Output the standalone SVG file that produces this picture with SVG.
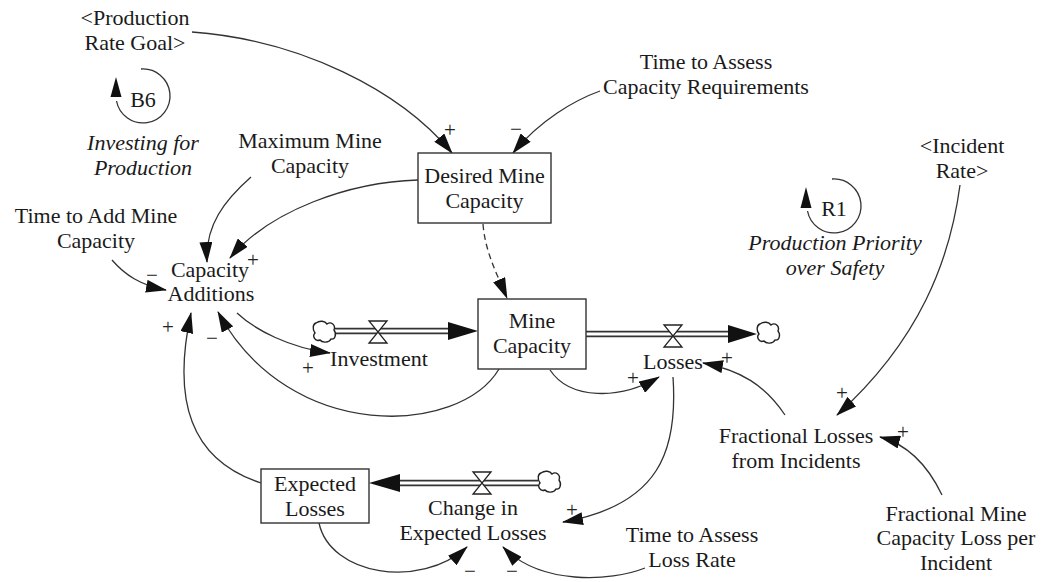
<svg xmlns="http://www.w3.org/2000/svg" width="1043" height="582" viewBox="0 0 1043 582" font-family="'Liberation Serif', 'Times New Roman', 'DejaVu Serif', serif">
<style>
text{font-family:"Liberation Serif","Times New Roman","DejaVu Serif",serif;font-size:22px;fill:#1a1a1a;text-anchor:middle}
.it{font-style:italic}
.sg{font-size:21px;fill:#222}
.box{fill:#fff;stroke:#333;stroke-width:1.4}
.lk{fill:none;stroke:#333;stroke-width:1.3}
.dash{stroke-dasharray:6 4}
.po{fill:none;stroke:#333;stroke-width:6.5}
.pi{fill:none;stroke:#fff;stroke-width:3}
.ah{fill:#111}
.valve{fill:#fff;stroke:#222;stroke-width:1.3}
.cloud{fill:#fff;stroke:#222;stroke-width:1.4}
.loop{fill:none;stroke:#333;stroke-width:1.3}
</style>
<defs>
<marker id="arr" viewBox="0 0 21 13" refX="20" refY="6.5" markerWidth="21" markerHeight="13" markerUnits="userSpaceOnUse" orient="auto">
<path d="M0,0 L21,6.5 L0,13 z" fill="#111"/>
</marker>
<path id="cl" class="cloud" d="M-8,-9 C-4,-12 1,-11 3,-8 C7,-11 12,-7 10,-2 C13,2 11,8 7,7 C5,11 -2,11 -4,8 C-9,10 -12,4 -9,1 C-12,-3 -11,-8 -8,-9 Z"/>
<path id="vl" class="valve" d="M-9,-11 L9,-11 L-9,11 L9,11 Z"/>
</defs>

<g id="connectors">
<path class="lk" marker-end="url(#arr)" d="M192,32 C300,40 400,90 452,153"/>
<path class="lk" marker-end="url(#arr)" d="M600,91 C575,100 540,120 513,153"/>
<path class="lk" marker-end="url(#arr)" d="M251,177 C225,200 205,225 207,262"/>
<path class="lk" marker-end="url(#arr)" d="M418,180 C350,182 270,210 230,258"/>
<path class="lk" marker-end="url(#arr)" d="M112,260 C125,275 140,285 166,290"/>
<path class="lk" marker-end="url(#arr)" d="M237,313 C255,330 290,348 330,353"/>
<path class="lk" marker-end="url(#arr)" d="M499,369 C460,435 290,445 218,312"/>
<path class="lk" marker-end="url(#arr)" d="M261,483 C190,460 172,400 191,313"/>
<path class="lk dash" marker-end="url(#arr)" d="M483,224 C485,250 495,270 507,298"/>
<path class="lk" marker-end="url(#arr)" d="M550,370 C570,400 620,400 659,377"/>
<path class="lk" marker-end="url(#arr)" d="M785,415 C765,385 740,370 703,363"/>
<path class="lk" marker-end="url(#arr)" d="M960,185 C950,260 920,340 837,415"/>
<path class="lk" marker-end="url(#arr)" d="M942,495 C930,470 910,445 880,437"/>
<path class="lk" marker-end="url(#arr)" d="M673,377 C678,450 660,505 563,522"/>
<path class="lk" marker-end="url(#arr)" d="M645,568 C610,582 540,585 503,547"/>
<path class="lk" marker-end="url(#arr)" d="M319,523 C330,575 420,590 467,547"/>
<g id="signs">
<text class="sg" x="450" y="137">+</text>
<text class="sg" x="516" y="136">−</text>
<text class="sg" x="253" y="267">+</text>
<text class="sg" x="152" y="282">−</text>
<text class="sg" x="308" y="375">+</text>
<text class="sg" x="212" y="345">−</text>
<text class="sg" x="168" y="334">+</text>
<text class="sg" x="633" y="385">+</text>
<text class="sg" x="727" y="365">+</text>
<text class="sg" x="842" y="400">+</text>
<text class="sg" x="903" y="439">+</text>
<text class="sg" x="572" y="517">+</text>
<text class="sg" x="512" y="578">−</text>
<text class="sg" x="470" y="578">−</text>
</g>
</g>

<g id="flows">
<g id="flow-investment">
<path class="po" d="M335,331 L450,331"/>
<path class="pi" d="M335,331 L452,331"/>
<polygon class="ah" points="448,322 478,331 448,340"/>
<use href="#cl" x="324" y="332"/>
<use href="#vl" x="378" y="332"/>
</g>
<g id="flow-losses">
<path class="po" d="M586,334 L730,334"/>
<path class="pi" d="M586,334 L732,334"/>
<polygon class="ah" points="728,325 757,334 728,343"/>
<use href="#cl" x="768" y="333"/>
<use href="#vl" x="673" y="336"/>
</g>
<g id="flow-change">
<path class="po" d="M538,483 L398,483"/>
<path class="pi" d="M538,483 L396,483"/>
<polygon class="ah" points="400,474 369,483 400,492"/>
<use href="#cl" x="549" y="482"/>
<use href="#vl" x="482" y="483"/>
</g>
</g>

<g id="loop-B6">
<path class="loop" d="M141,69 A27,27 0 1 1 116.5,101"/>
<polygon class="ah" points="116,77 110.5,97 121.5,97"/>
<text x="143" y="107">B6</text>
<text class="it" x="143" y="150">Investing for</text>
<text class="it" x="143" y="175">Production</text>
</g>
<g id="loop-R1">
<path class="loop" d="M832,179 A27,27 0 1 1 807.5,211"/>
<polygon class="ah" points="806,187 800.5,208 811.5,208"/>
<text x="834" y="216">R1</text>
<text class="it" x="835" y="250">Production Priority</text>
<text class="it" x="835" y="275">over Safety</text>
</g>

<g id="production-rate-goal"><text x="135" y="25">&lt;Production</text><text x="135" y="50">Rate Goal&gt;</text></g>
<g id="time-assess-capacity"><text x="706" y="69">Time to Assess</text><text x="706" y="94">Capacity Requirements</text></g>
<g id="maximum-mine-capacity"><text x="310" y="148">Maximum Mine</text><text x="310" y="173">Capacity</text></g>
<g id="desired-mine-capacity"><rect class="box" x="418" y="153" width="133" height="70"/><text x="484.5" y="183">Desired Mine</text><text x="484.5" y="208">Capacity</text></g>
<g id="incident-rate"><text x="962" y="153">&lt;Incident</text><text x="962" y="178">Rate&gt;</text></g>
<g id="time-add-capacity"><text x="96" y="223">Time to Add Mine</text><text x="96" y="248">Capacity</text></g>
<g id="capacity-additions"><text x="210" y="277">Capacity</text><text x="211" y="301">Additions</text></g>
<g id="investment"><text x="379" y="366">Investment</text></g>
<g id="mine-capacity"><rect class="box" x="478" y="299" width="108" height="70"/><text x="532" y="328">Mine</text><text x="532" y="353">Capacity</text></g>
<g id="losses"><text x="673" y="369">Losses</text></g>
<g id="fractional-losses"><text x="796" y="443">Fractional Losses</text><text x="796" y="468">from Incidents</text></g>
<g id="expected-losses"><rect class="box" x="261" y="469" width="108" height="54"/><text x="315" y="491">Expected</text><text x="315" y="516">Losses</text></g>
<g id="change-expected-losses"><text x="473" y="515">Change in</text><text x="473" y="540">Expected Losses</text></g>
<g id="time-assess-loss"><text x="692" y="542">Time to Assess</text><text x="692" y="567">Loss Rate</text></g>
<g id="fractional-mine-loss"><text x="956" y="521">Fractional Mine</text><text x="956" y="545">Capacity Loss per</text><text x="956" y="570">Incident</text></g>
</svg>
